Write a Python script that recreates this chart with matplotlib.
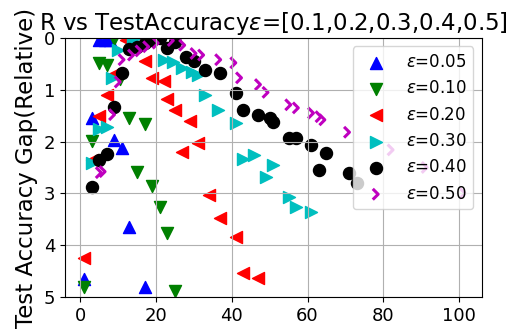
import matplotlib
matplotlib.use('Agg')
import matplotlib.pyplot as plt
from matplotlib.path import Path

# R values (x) and relative test accuracy gap (y) per epsilon
r_005 = [1, 3, 5, 6.5, 8, 9, 11, 13, 17]
gap_005 = [4.65, 1.55, 0.03, 0.03, 0.03, 1.97, 2.12, 3.65, 4.8]

r_010 = [1, 3, 5, 7, 9, 10.5, 13, 15, 17, 19, 21, 23, 25]
gap_010 = [4.8, 1.99, 0.48, 0.52, 0.02, 0.8, 1.55, 2.58, 1.67, 2.86, 3.26, 3.76, 4.88]

r_020 = [1, 3, 5, 7, 9, 12, 17, 19, 22, 23, 25, 27, 29, 31, 34, 37, 41, 43, 47]
gap_020 = [4.25, 2.35, 1.5, 1.1, 0.7, 0.03, 0.44, 0.77, 0.84, 1.17, 1.39, 2.2,
           1.61, 2.02, 3.03, 3.48, 3.84, 4.54, 4.63]

r_030 = [3, 5, 7, 8.5, 10, 14, 22, 24.5, 27, 29.5, 31, 33, 36.5, 41, 43, 46,
         49, 51, 55, 57, 61]
gap_030 = [2.42, 1.75, 1.72, 0.77, 0.23, 0.02, 0.42, 0.46, 0.58, 0.65, 0.72,
           1.1, 1.39, 1.65, 2.34, 2.26, 2.68, 2.45, 3.07, 3.26, 3.36]

r_040 = [3, 5, 7, 9, 11, 13, 15, 17, 19, 21, 23, 25, 28, 30, 33, 37, 41, 43,
         47, 50, 51, 55, 57, 61, 63, 65, 71, 73]
gap_040 = [2.88, 2.36, 2.24, 1.33, 0.68, 0.22, 0.17, 0.1, 0.04, 0.0, 0.2, 0.07,
           0.36, 0.45, 0.62, 0.68, 1.06, 1.39, 1.49, 1.55, 1.62, 1.93, 1.93,
           2.07, 2.55, 2.22, 2.61, 2.8]

r_050 = [5, 6, 8.5, 10, 11, 13.5, 15.5, 17.5, 20, 24, 27, 30, 32, 36.5, 40.5,
         42, 47, 49, 55, 57, 61, 63, 64, 70.5, 82, 91, 101]
gap_050 = [2.6, 2.58, 1.48, 0.85, 0.42, 0.33, 0.25, 0.17, 0.1, 0.05, 0.14, 0.3,
           0.33, 0.42, 0.48, 0.77, 0.9, 1.05, 1.29, 1.35, 1.45, 1.52, 1.58,
           1.82, 2.16, 2.5, 3.0]

labels = [r'$\epsilon$=0.05', r'$\epsilon$=0.10', r'$\epsilon$=0.20',
          r'$\epsilon$=0.30', r'$\epsilon$=0.40', r'$\epsilon$=0.50']

# open ">" chevron for the last series
chevron = Path([(-0.6, 1), (0.4, 0), (-0.6, -1)],
               [Path.MOVETO, Path.LINETO, Path.LINETO])

fig = plt.figure(figsize=(5.22, 3.30), dpi=100)
ax = fig.add_axes([0.1245, 0.1, 0.7985, 0.785])

ax.scatter(r_005, gap_005, c='b', marker='^', s=75, label=labels[0])
ax.scatter(r_010, gap_010, c='g', marker='v', s=75, label=labels[1])
ax.scatter(r_020, gap_020, c='r', marker='<', s=75, label=labels[2])
ax.scatter(r_030, gap_030, c='c', marker='>', s=75, label=labels[3])
ax.scatter(r_040, gap_040, c='k', marker='o', s=75, label=labels[4])
ax.scatter(r_050, gap_050, facecolors='none', edgecolors='m', marker=chevron,
           s=60, linewidths=2.2, label=labels[5])

ax.set_ylim(5, 0)
ax.grid(True)
ax.tick_params(labelsize=13)
ax.set_title(r'R vs TestAccuracy$\epsilon$=[0.1,0.2,0.3,0.4,0.5]', fontsize=16.5)
ax.set_ylabel('Test Accuracy Gap(Relative)', fontsize=16.5)
ax.legend(loc='upper right', fontsize=12)

plt.savefig('out.png', dpi=100)
